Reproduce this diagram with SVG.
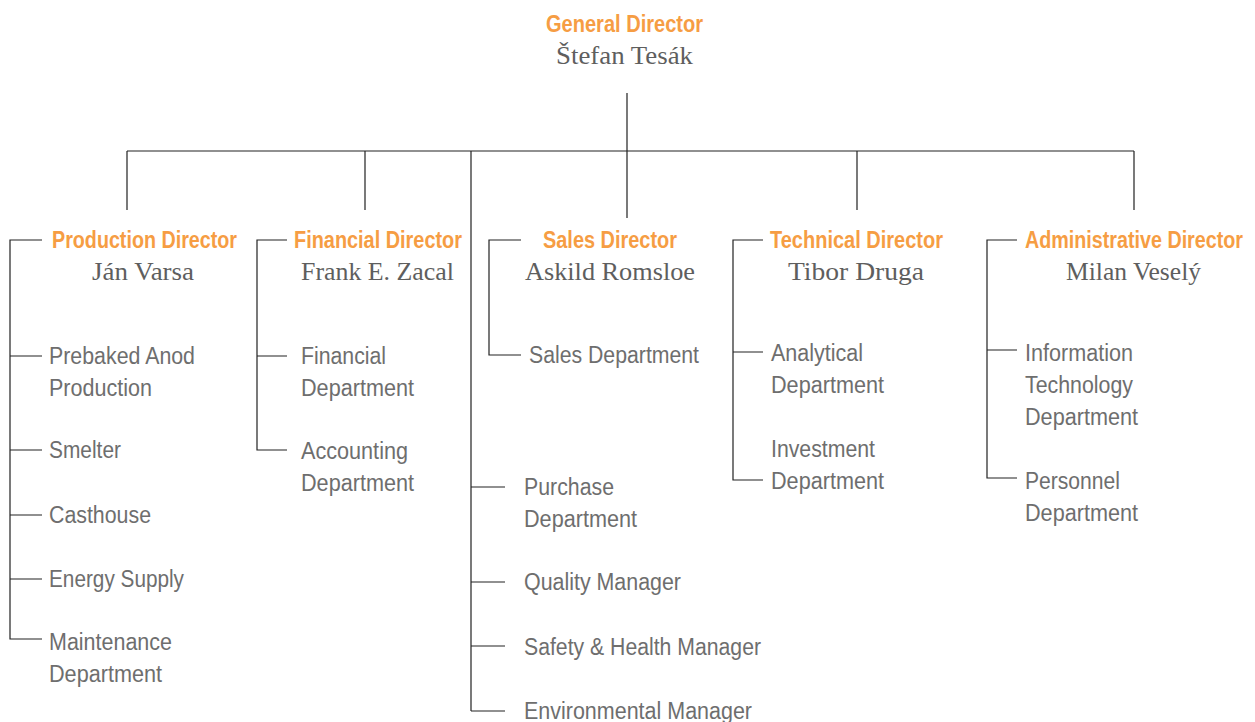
<svg xmlns="http://www.w3.org/2000/svg" width="1255" height="722" viewBox="0 0 1255 722">
<style>
.bg{fill:#ffffff}
.title{font-family:"Liberation Sans",Arial,sans-serif;font-weight:bold;font-size:23px;fill:#F69D43}
.name{font-family:"Liberation Serif","Times New Roman",serif;font-size:25px;fill:#5e5e5e}
.item{font-family:"Liberation Sans",Arial,sans-serif;font-size:23px;fill:#6e6e6e}
.conn{fill:none;stroke:#222222;stroke-width:1.2}
</style>
<rect class="bg" x="0" y="0" width="1255" height="722"/>
<g id="connectors">
<path class="conn" d="M627,93 V151 M127,151 H1134 M127,151 V210 M365,151 V210 M627,151 V218 M857,151 V210 M1134,151 V210"/>
<path class="conn" d="M471,151 V711 M471,487 H505 M471,582 H505 M471,646 H505 M471,711 H505"/>
<path class="conn" d="M42,240 H10 V639 H42 M10,356 H42 M10,450 H42 M10,515 H42 M10,579 H42"/>
<path class="conn" d="M287,240 H257 V450 H287 M257,356 H287"/>
<path class="conn" d="M521,240 H489 V355 H521"/>
<path class="conn" d="M763,240 H733 V480 H763 M733,352 H763"/>
<path class="conn" d="M1017,240 H987 V478 H1017 M987,350 H1017"/>
</g>
<g id="general-director">
<text class="title" x="546" y="32" textLength="157" lengthAdjust="spacingAndGlyphs">General Director</text>
<text class="name" x="556" y="64" textLength="137" lengthAdjust="spacingAndGlyphs">Štefan Tesák</text>
</g>
<g id="production-director">
<text class="title" x="52" y="248" textLength="185" lengthAdjust="spacingAndGlyphs">Production Director</text>
<text class="name" x="92" y="280" textLength="102" lengthAdjust="spacingAndGlyphs">Ján Varsa</text>
</g>
<g id="prebaked-anod-production">
<text class="item" x="49" y="364" textLength="146" lengthAdjust="spacingAndGlyphs">Prebaked Anod</text>
<text class="item" x="49" y="396" textLength="103" lengthAdjust="spacingAndGlyphs">Production</text>
</g>
<g id="smelter"><text class="item" x="49" y="458" textLength="72" lengthAdjust="spacingAndGlyphs">Smelter</text></g>
<g id="casthouse"><text class="item" x="49" y="523" textLength="102" lengthAdjust="spacingAndGlyphs">Casthouse</text></g>
<g id="energy-supply"><text class="item" x="49" y="587" textLength="135" lengthAdjust="spacingAndGlyphs">Energy Supply</text></g>
<g id="maintenance-department">
<text class="item" x="49" y="650" textLength="123" lengthAdjust="spacingAndGlyphs">Maintenance</text>
<text class="item" x="49" y="682" textLength="113" lengthAdjust="spacingAndGlyphs">Department</text>
</g>
<g id="financial-director">
<text class="title" x="294" y="248" textLength="168" lengthAdjust="spacingAndGlyphs">Financial Director</text>
<text class="name" x="301" y="280" textLength="153" lengthAdjust="spacingAndGlyphs">Frank E. Zacal</text>
</g>
<g id="financial-department">
<text class="item" x="301" y="364" textLength="85" lengthAdjust="spacingAndGlyphs">Financial</text>
<text class="item" x="301" y="396" textLength="113" lengthAdjust="spacingAndGlyphs">Department</text>
</g>
<g id="accounting-department">
<text class="item" x="301" y="459" textLength="107" lengthAdjust="spacingAndGlyphs">Accounting</text>
<text class="item" x="301" y="491" textLength="113" lengthAdjust="spacingAndGlyphs">Department</text>
</g>
<g id="sales-director">
<text class="title" x="543" y="248" textLength="134" lengthAdjust="spacingAndGlyphs">Sales Director</text>
<text class="name" x="525" y="280" textLength="170" lengthAdjust="spacingAndGlyphs">Askild Romsloe</text>
</g>
<g id="sales-department"><text class="item" x="529" y="363" textLength="170" lengthAdjust="spacingAndGlyphs">Sales Department</text></g>
<g id="purchase-department">
<text class="item" x="524" y="495" textLength="90" lengthAdjust="spacingAndGlyphs">Purchase</text>
<text class="item" x="524" y="527" textLength="113" lengthAdjust="spacingAndGlyphs">Department</text>
</g>
<g id="quality-manager"><text class="item" x="524" y="590" textLength="157" lengthAdjust="spacingAndGlyphs">Quality Manager</text></g>
<g id="safety-health-manager"><text class="item" x="524" y="655" textLength="237" lengthAdjust="spacingAndGlyphs">Safety &amp; Health Manager</text></g>
<g id="environmental-manager"><text class="item" x="524" y="719" textLength="228" lengthAdjust="spacingAndGlyphs">Environmental Manager</text></g>
<g id="technical-director">
<text class="title" x="770" y="248" textLength="173" lengthAdjust="spacingAndGlyphs">Technical Director</text>
<text class="name" x="788" y="280" textLength="136" lengthAdjust="spacingAndGlyphs">Tibor Druga</text>
</g>
<g id="analytical-department">
<text class="item" x="771" y="361" textLength="92" lengthAdjust="spacingAndGlyphs">Analytical</text>
<text class="item" x="771" y="393" textLength="113" lengthAdjust="spacingAndGlyphs">Department</text>
</g>
<g id="investment-department">
<text class="item" x="771" y="457" textLength="104" lengthAdjust="spacingAndGlyphs">Investment</text>
<text class="item" x="771" y="489" textLength="113" lengthAdjust="spacingAndGlyphs">Department</text>
</g>
<g id="administrative-director">
<text class="title" x="1025" y="248" textLength="218" lengthAdjust="spacingAndGlyphs">Administrative Director</text>
<text class="name" x="1066" y="280" textLength="135" lengthAdjust="spacingAndGlyphs">Milan Veselý</text>
</g>
<g id="information-technology-department">
<text class="item" x="1025" y="361" textLength="108" lengthAdjust="spacingAndGlyphs">Information</text>
<text class="item" x="1025" y="393" textLength="108" lengthAdjust="spacingAndGlyphs">Technology</text>
<text class="item" x="1025" y="425" textLength="113" lengthAdjust="spacingAndGlyphs">Department</text>
</g>
<g id="personnel-department">
<text class="item" x="1025" y="489" textLength="95" lengthAdjust="spacingAndGlyphs">Personnel</text>
<text class="item" x="1025" y="521" textLength="113" lengthAdjust="spacingAndGlyphs">Department</text>
</g>
</svg>
